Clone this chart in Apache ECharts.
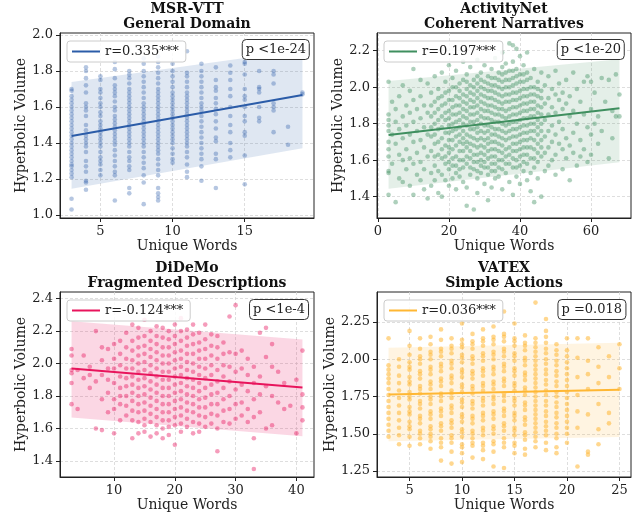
<!DOCTYPE html>
<html><head><meta charset="utf-8">
<script src="https://cdn.jsdelivr.net/npm/echarts@6/dist/echarts.min.js"></script>
<style>html,body{margin:0;padding:0;background:#fff}#c{width:634px;height:518px}</style>
</head><body><div id="c"></div>
<script>
// ---------------- DATA ----------------
// MSR-VTT: x = unique words, y values per column
const msrX = [3,4,5,6,7,8,9,10,11,12,13,14,15,16,17,18,19];
const msrY = [
 [1.70,1.69,1.66,1.64,1.62,1.60,1.58,1.56,1.54,1.52,1.50,1.48,1.46,1.44,1.42,1.40,1.38,1.36,1.34,1.32,1.30,1.28,1.27,1.25,1.23,1.21,1.09,1.03],
 [1.82,1.80,1.76,1.72,1.68,1.62,1.60,1.58,1.55,1.50,1.47,1.44,1.42,1.40,1.38,1.35,1.30,1.27,1.24,1.19,1.18,1.14],
 [1.77,1.75,1.70,1.68,1.65,1.62,1.60,1.57,1.55,1.52,1.50,1.48,1.46,1.44,1.42,1.40,1.38,1.35,1.32,1.30,1.28,1.25,1.22],
 [1.85,1.81,1.76,1.72,1.70,1.68,1.66,1.63,1.60,1.58,1.55,1.53,1.51,1.49,1.47,1.45,1.43,1.41,1.39,1.36,1.33,1.30,1.27,1.24,1.22,1.08],
 [1.80,1.78,1.76,1.73,1.70,1.68,1.66,1.64,1.62,1.60,1.58,1.56,1.54,1.52,1.50,1.48,1.46,1.44,1.42,1.40,1.38,1.35,1.32,1.30,1.27,1.25,1.15,1.12],
 [1.87,1.84,1.80,1.77,1.74,1.71,1.68,1.65,1.62,1.60,1.58,1.56,1.54,1.52,1.50,1.48,1.46,1.44,1.42,1.40,1.38,1.35,1.32,1.29,1.26,1.22,1.18,1.06],
 [1.88,1.85,1.82,1.79,1.76,1.73,1.70,1.68,1.66,1.64,1.62,1.60,1.58,1.56,1.54,1.52,1.50,1.48,1.46,1.44,1.42,1.40,1.38,1.36,1.34,1.31,1.28,1.25,1.22,1.15,1.12,1.10,1.08],
 [1.84,1.80,1.77,1.74,1.71,1.68,1.66,1.64,1.62,1.60,1.58,1.56,1.54,1.52,1.50,1.48,1.46,1.44,1.42,1.40,1.37,1.34,1.31,1.29],
 [1.91,1.79,1.77,1.74,1.71,1.68,1.66,1.64,1.62,1.60,1.58,1.56,1.54,1.52,1.50,1.48,1.46,1.44,1.42,1.40,1.38,1.35,1.32,1.28,1.24,1.21],
 [1.84,1.80,1.77,1.74,1.71,1.68,1.65,1.62,1.60,1.58,1.55,1.52,1.49,1.46,1.43,1.40,1.37,1.34,1.31,1.27,1.19],
 [1.82,1.75,1.71,1.69,1.65,1.62,1.59,1.56,1.52,1.48,1.43,1.41,1.34,1.31,1.15],
 [1.83,1.79,1.75,1.70,1.66,1.60,1.55,1.50,1.46,1.40,1.36,1.32],
 [1.85,1.84,1.78,1.70,1.66,1.64,1.60,1.55,1.52,1.46,1.44,1.33,1.17],
 [1.80,1.71,1.70,1.68,1.60,1.54,1.52],
 [1.80,1.78,1.73,1.62,1.60,1.58,1.46],
 [1.49,1.39],
 [1.68,1.67]
];
const msrLine = [[3,1.439],[19,1.667]];
const msrBandX = [3,19], msrBandLow = [1.146,1.370], msrBandHigh = [1.739,1.917];

// ActivityNet: [unique words, hyperbolic volume]
const actPoints = [
[3,1.85],[3,1.82],[3,1.79],[3,1.76],[3,1.70],[3,1.66],[3,1.62],[3,1.54],[3,1.53],[3,1.41],[3,2.03],
[4,1.92],[4,1.74],[4,1.58],[5,1.88],[5,1.69],[5,1.37],[5,1.81],[6,1.95],[6,1.77],[6,1.63],[6,1.50],
[7,2.01],[7,1.84],[7,1.72],[7,1.60],[7,1.48],[8,1.90],[8,1.79],[8,1.66],[8,1.55],[9,1.98],[9,1.86],[9,1.74],[9,1.61],[9,1.46],
[10,2.10],[10,1.93],[10,1.81],[10,1.70],[10,1.58],[10,1.41],[11,1.88],[11,1.76],[11,1.64],[11,1.52],
[12,2.04],[12,1.95],[12,1.83],[12,1.71],[12,1.59],[12,1.49],[13,1.90],[13,1.78],[13,1.67],[13,1.55],[13,1.44],
[14,2.02],[14,1.86],[14,1.74],[14,1.62],[14,1.39],[15,1.97],[15,1.84],[15,1.73],[15,1.65],[15,1.53],[15,1.46],
[16,2.06],[16,1.92],[16,1.80],[16,1.69],[16,1.57],[16,1.49],[17,1.99],[17,1.88],[17,1.77],[17,1.63],[17,1.54],[17,1.42],
[18,2.08],[18,1.95],[18,1.84],[18,1.72],[18,1.61],[18,1.52],[18,1.40],
[19,2.03],[19,1.91],[19,1.82],[19,1.75],[19,1.68],[19,1.58],[19,1.49],
[20,2.12],[20,1.98],[20,1.87],[20,1.79],[20,1.71],[20,1.64],[20,1.55],[20,1.46],
[21,2.05],[21,1.93],[21,1.85],[21,1.76],[21,1.66],[21,1.57],[21,1.50],
[22,2.09],[22,2.00],[22,1.90],[22,1.81],[22,1.73],[22,1.62],[22,1.53],[22,1.44],
[23,2.02],[23,1.94],[23,1.86],[23,1.78],[23,1.70],[23,1.60],[23,1.51],
[24,2.14],[24,2.04],[24,1.96],[24,1.88],[24,1.80],[24,1.72],[24,1.65],[24,1.56],[24,1.48],
[25,2.07],[25,1.99],[25,1.91],[25,1.83],[25,1.74],[25,1.67],[25,1.58],[25,1.45],[25,1.35],
[26,2.11],[26,2.01],[26,1.93],[26,1.85],[26,1.77],[26,1.69],[26,1.61],[26,1.52],
[27,2.04],[27,1.96],[27,1.89],[27,1.81],[27,1.72],[27,1.63],[27,1.55],[27,1.33],
[28,2.15],[28,2.06],[28,1.98],[28,1.90],[28,1.82],[28,1.75],[28,1.67],[28,1.59],[28,1.50],[28,1.42],
[29,2.08],[29,2.00],[29,1.92],[29,1.84],[29,1.76],[29,1.68],[29,1.60],[29,1.53],
[30,2.12],[30,2.03],[30,1.95],[30,1.87],[30,1.79],[30,1.71],[30,1.63],[30,1.56],[30,1.47],
[31,2.06],[31,1.98],[31,1.90],[31,1.83],[31,1.76],[31,1.69],[31,1.61],[31,1.52],[31,1.38],
[32,2.10],[32,2.01],[32,1.94],[32,1.86],[32,1.78],[32,1.70],[32,1.62],[32,1.54],[32,1.45],
[33,2.16],[33,2.05],[33,1.97],[33,1.89],[33,1.81],[33,1.74],[33,1.66],[33,1.58],[33,1.50],
[34,2.08],[34,2.00],[34,1.92],[34,1.85],[34,1.77],[34,1.69],[34,1.60],[34,1.51],
[35,2.19],[35,2.11],[35,2.03],[35,1.95],[35,1.88],[35,1.80],[35,1.72],[35,1.64],[35,1.55],[35,1.44],
[36,2.13],[36,2.04],[36,1.96],[36,1.87],[36,1.79],[36,1.71],[36,1.62],[36,1.53],
[37,2.24],[37,2.09],[37,2.00],[37,1.92],[37,1.84],[37,1.76],[37,1.67],[37,1.58],[37,1.48],
[38,2.23],[38,2.14],[38,2.05],[38,1.97],[38,1.89],[38,1.81],[38,1.73],[38,1.65],[38,1.56],[38,1.41],
[39,2.21],[39,2.10],[39,2.02],[39,1.93],[39,1.85],[39,1.77],[39,1.69],[39,1.60],[39,1.51],
[40,2.17],[40,2.07],[40,1.98],[40,1.90],[40,1.82],[40,1.74],[40,1.66],[40,1.57],[40,1.47],
[41,2.12],[41,2.03],[41,1.95],[41,1.87],[41,1.79],[41,1.71],[41,1.63],[41,1.54],
[42,2.19],[42,2.08],[42,1.99],[42,1.91],[42,1.83],[42,1.75],[42,1.67],[42,1.58],[42,1.49],
[43,2.05],[43,1.96],[43,1.88],[43,1.80],[43,1.72],[43,1.61],[43,1.43],
[44,2.10],[44,2.00],[44,1.92],[44,1.84],[44,1.76],[44,1.66],[44,1.56],[44,1.37],
[45,2.03],[45,1.95],[45,1.86],[45,1.78],[45,1.69],[45,1.59],[45,1.50],
[46,2.08],[46,1.98],[46,1.89],[46,1.80],[46,1.71],[46,1.62],[46,1.40],
[47,2.01],[47,1.91],[47,1.82],[47,1.73],[47,1.64],[47,1.54],
[48,2.06],[48,1.94],[48,1.85],[48,1.76],[48,1.67],[48,1.57],
[49,1.99],[49,1.89],[49,1.79],[49,1.70],[49,1.60],
[50,2.09],[50,1.96],[50,1.86],[50,1.74],[50,1.63],[50,1.52],
[51,2.02],[51,1.93],[51,1.81],[51,1.69],
[52,1.97],[52,1.88],[52,1.77],[52,1.66],[52,1.55],
[53,2.04],[53,1.91],[53,1.72],[53,1.61],
[54,1.95],[54,1.84],[54,1.68],[54,1.49],
[55,2.08],[55,1.87],[55,1.75],[55,1.64],
[56,1.99],[56,1.80],[56,1.57],
[57,1.92],[57,1.71],[57,1.62],
[58,2.03],[58,1.85],[58,1.66],
[59,2.06],[59,1.78],[59,1.59],
[60,2.03],[60,1.88],[60,1.74],[60,1.63],
[61,1.97],[61,1.80],[62,1.84],[62,1.69],[63,2.05],[63,1.76],[64,1.92],
[65,2.04],[65,1.61],[66,1.87],[66,1.72],[67,2.07],[67,1.84],[68,1.84],[68,1.96],
// denser core of the cloud
[15,1.90],[15,1.78],[16,1.86],[16,1.74],[16,1.62],[17,1.94],[17,1.82],[17,1.70],[18,1.90],[18,1.78],[18,1.66],
[19,1.97],[19,1.86],[19,1.62],[20,1.93],[20,1.83],[20,1.75],[20,1.67],[20,1.59],[21,2.00],[21,1.89],[21,1.80],[21,1.71],[21,1.61],
[22,1.95],[22,1.85],[22,1.77],[22,1.68],[22,1.57],[23,1.98],[23,1.90],[23,1.82],[23,1.74],[23,1.65],[23,1.55],
[24,1.92],[24,1.84],[24,1.76],[24,1.69],[24,1.60],[25,2.03],[25,1.95],[25,1.87],[25,1.79],[25,1.70],[25,1.62],
[26,1.97],[26,1.89],[26,1.81],[26,1.73],[26,1.65],[26,1.56],[27,2.00],[27,1.92],[27,1.85],[27,1.77],[27,1.68],[27,1.59],
[28,2.02],[28,1.94],[28,1.86],[28,1.78],[28,1.71],[28,1.63],[28,1.54],[29,2.04],[29,1.96],[29,1.88],[29,1.80],[29,1.72],[29,1.64],[29,1.57],
[30,1.99],[30,1.91],[30,1.83],[30,1.75],[30,1.67],[30,1.59],[31,2.02],[31,1.94],[31,1.87],[31,1.79],[31,1.72],[31,1.65],[31,1.56],
[32,2.05],[32,1.98],[32,1.90],[32,1.82],[32,1.74],[32,1.66],[32,1.58],[33,2.01],[33,1.93],[33,1.85],[33,1.77],[33,1.70],[33,1.62],[33,1.54],
[34,2.04],[34,1.96],[34,1.88],[34,1.81],[34,1.73],[34,1.65],[34,1.56],[35,2.07],[35,1.99],[35,1.91],[35,1.84],[35,1.76],[35,1.68],[35,1.60],
[36,2.08],[36,2.00],[36,1.92],[36,1.83],[36,1.75],[36,1.66],[36,1.58],[37,2.04],[37,1.96],[37,1.88],[37,1.80],[37,1.72],[37,1.63],
[38,2.09],[38,2.01],[38,1.93],[38,1.85],[38,1.77],[38,1.69],[38,1.61],[39,2.06],[39,1.97],[39,1.89],[39,1.81],[39,1.73],[39,1.65],[39,1.56],
[40,2.03],[40,1.94],[40,1.86],[40,1.78],[40,1.70],[40,1.62],[41,2.07],[41,1.99],[41,1.91],[41,1.83],[41,1.75],[41,1.67],[41,1.59],
[42,2.04],[42,1.95],[42,1.87],[42,1.79],[42,1.71],[42,1.63],[43,2.00],[43,1.92],[43,1.84],[43,1.76],[43,1.67],[43,1.53],
[44,1.96],[44,1.88],[44,1.80],[44,1.71],[44,1.61],[45,1.99],[45,1.90],[45,1.82],[45,1.74],[45,1.64],[46,1.94],[46,1.85],[46,1.76],[46,1.67]
];
const actLine = [[3,1.738],[68,1.884]];
const actBandX = [3,68], actBandLow = [1.444,1.588], actBandHigh = [2.034,2.153];

// DiDeMo
const didX = [3,4,5,6,7,8,9,10,11,12,13,14,15,16,17,18,19,20,21,22,23,24,25,26,27,28,29,30,31,32,33,34,35,36,37,38,39,40,41];
const didY = [
 [2.09,2.05,1.96,1.94,1.88,1.75],[1.96,1.72],[2.05,1.91],[1.98,1.93,1.85],[2.20,1.89,1.60],
 [2.10,2.02,1.93,1.78,1.59],[2.09,1.97,1.90,1.82,1.70],[2.12,2.03,1.97,1.88,1.78,1.72,1.57],
 [2.14,2.06,1.99,1.92,1.85,1.80,1.75,1.65],[2.19,2.10,2.03,1.97,1.91,1.86,1.80,1.74,1.68],
 [2.24,2.14,2.08,2.02,1.97,1.92,1.87,1.82,1.77,1.71,1.65,1.54],
 [2.22,2.16,2.10,2.05,2.00,1.95,1.90,1.85,1.80,1.75,1.70,1.64,1.57],
 [2.27,2.17,2.11,2.06,2.01,1.96,1.91,1.86,1.81,1.76,1.71,1.66,1.62,1.58],
 [2.20,2.14,2.09,2.04,1.99,1.94,1.89,1.84,1.79,1.74,1.69,1.64,1.55],
 [2.23,2.17,2.12,2.07,2.02,1.97,1.92,1.87,1.82,1.77,1.72,1.67,1.62,1.57],
 [2.22,2.16,2.10,2.05,2.00,1.95,1.90,1.85,1.80,1.75,1.70,1.65,1.60,1.54],
 [2.20,2.15,2.10,2.05,2.00,1.95,1.90,1.85,1.80,1.75,1.70,1.65,1.61,1.56],
 [2.24,2.17,2.12,2.07,2.02,1.97,1.92,1.87,1.82,1.77,1.72,1.67,1.62,1.50],
 [2.28,2.20,2.14,2.08,2.03,1.98,1.93,1.88,1.83,1.78,1.73,1.68,1.63,1.58],
 [2.21,2.16,2.11,2.06,2.01,1.96,1.91,1.86,1.81,1.76,1.71,1.66,1.61],
 [2.24,2.18,2.12,2.06,2.00,1.95,1.90,1.85,1.80,1.75,1.70,1.64,1.57],
 [2.19,2.13,2.08,2.03,1.98,1.93,1.88,1.83,1.78,1.73,1.68,1.63,1.58],
 [2.24,2.15,2.09,2.03,1.97,1.91,1.85,1.79,1.73,1.67,1.61],
 [2.18,2.11,2.05,1.99,1.93,1.87,1.81,1.75,1.69,1.63],
 [2.17,2.10,2.03,1.96,1.89,1.82,1.75,1.68,1.60,1.46],
 [2.13,2.06,1.99,1.92,1.85,1.78,1.71,1.64],
 [2.29,2.07,1.98,1.89,1.80,1.72,1.63],
 [2.36,2.06,1.95,1.84,1.75,1.66],
 [2.08,1.97,1.87,1.76,1.68],[2.03,1.93,1.83,1.72,1.64],[1.98,1.88,1.78,1.67,1.54,1.35],
 [2.19,1.92,1.81,1.70],[2.22,2.04,1.86,1.60],[2.12,1.98,1.80,1.62],[1.95,1.76],[1.88,1.72],[1.74],
 [1.90,1.57],[2.08,1.81,1.73,1.65]
];
const didLine = [[3,1.969],[41,1.852]];
const didBandX = [3,41], didBandLow = [1.667,1.552], didBandHigh = [2.260,2.149];

// VATEX
const vatX = [3,4,5,6,7,8,9,10,11,12,13,14,15,16,17,18,19,20,21,22,23,24,25];
const vatY = [
 [2.14,1.96,1.93,1.90,1.87,1.84,1.80,1.76,1.72,1.68,1.64,1.60,1.56,1.52,1.48],
 [2.00,1.95,1.89,1.84,1.79,1.74,1.69,1.64,1.59,1.54,1.49,1.43],
 [2.19,2.09,2.03,1.98,1.95,1.93,1.88,1.85,1.83,1.78,1.75,1.73,1.68,1.65,1.63,1.58,1.55,1.53,1.48,1.42],
 [2.14,2.07,2.02,2.00,1.97,1.92,1.90,1.87,1.82,1.80,1.77,1.72,1.70,1.67,1.62,1.60,1.57,1.52,1.50,1.47,1.43],
 [2.15,2.10,2.05,2.03,2.00,1.95,1.93,1.90,1.85,1.83,1.80,1.75,1.73,1.70,1.65,1.63,1.60,1.55,1.53,1.50,1.48,1.45,1.40],
 [2.20,2.13,2.07,2.05,2.02,1.97,1.95,1.92,1.87,1.85,1.82,1.77,1.75,1.72,1.67,1.65,1.62,1.57,1.55,1.52,1.47,1.44,1.41,1.32],
 [2.14,2.09,2.07,2.04,1.99,1.97,1.94,1.89,1.87,1.84,1.79,1.77,1.74,1.69,1.67,1.64,1.59,1.57,1.54,1.49,1.47,1.44,1.38,1.30],
 [2.24,2.13,2.10,2.08,2.03,2.01,1.98,1.93,1.91,1.88,1.83,1.81,1.78,1.73,1.71,1.68,1.63,1.61,1.58,1.53,1.51,1.48,1.43,1.41,1.37,1.31],
 [2.17,2.12,2.10,2.07,2.02,2.00,1.97,1.92,1.90,1.87,1.82,1.80,1.77,1.72,1.70,1.67,1.62,1.60,1.57,1.52,1.50,1.47,1.44,1.42,1.34],
 [2.20,2.14,2.12,2.09,2.04,2.02,1.99,1.94,1.92,1.89,1.84,1.82,1.79,1.74,1.72,1.69,1.64,1.62,1.59,1.54,1.52,1.49,1.44,1.42,1.39,1.33],
 [2.22,2.15,2.13,2.10,2.05,2.03,2.00,1.95,1.93,1.90,1.85,1.83,1.80,1.75,1.73,1.70,1.65,1.63,1.60,1.55,1.53,1.50,1.45,1.43,1.38,1.28],
 [2.32,2.17,2.15,2.12,2.07,2.05,2.02,1.97,1.95,1.92,1.87,1.85,1.82,1.77,1.75,1.72,1.67,1.65,1.62,1.57,1.55,1.52,1.47,1.44,1.41,1.27],
 [2.24,2.14,2.12,2.09,2.04,2.02,1.99,1.94,1.92,1.89,1.84,1.82,1.79,1.74,1.72,1.69,1.64,1.62,1.59,1.54,1.52,1.49,1.44,1.42,1.37],
 [2.16,2.11,2.09,2.06,2.01,1.99,1.96,1.91,1.89,1.86,1.81,1.79,1.76,1.71,1.69,1.66,1.61,1.59,1.56,1.51,1.49,1.46,1.40,1.36],
 [2.38,2.14,2.11,2.08,2.05,2.02,1.99,1.96,1.93,1.90,1.87,1.84,1.81,1.78,1.75,1.72,1.69,1.66,1.63,1.60,1.57,1.54,1.51,1.48,1.45,1.41],
 [2.27,2.19,2.15,2.11,2.07,2.04,2.00,1.97,1.93,1.90,1.86,1.83,1.79,1.76,1.72,1.69,1.65,1.62,1.58,1.55,1.52,1.49,1.44,1.39],
 [2.10,2.06,2.03,1.99,1.96,1.92,1.89,1.85,1.82,1.78,1.75,1.71,1.68,1.64,1.61,1.57,1.54,1.50,1.47,1.41,1.37],
 [2.14,2.06,2.02,1.98,1.94,1.90,1.86,1.82,1.78,1.74,1.70,1.66,1.62,1.58,1.54,1.50,1.44],
 [2.14,2.01,1.88,1.76,1.65,1.54,1.28],
 [2.14,1.99,1.90,1.80,1.63,1.38,1.36],
 [2.08,1.95,1.84,1.70,1.53,1.43],
 [2.02,1.88,1.64,1.57],
 [2.10,1.94,1.80]
];
const vatLine = [[3,1.764],[25,1.796]];
const vatBandX = [3,25], vatBandLow = [1.449,1.478], vatBandHigh = [2.077,2.111];

// Text
const titles = ['MSR-VTT\nGeneral Domain','ActivityNet\nCoherent Narratives','DiDeMo\nFragmented Descriptions','VATEX\nSimple Actions'];
const rLabels = ['r=0.335***','r=0.197***','r=-0.124***','r=0.036***'];
const pLabels = ['p <1e-24','p <1e-20','p <1e-4','p =0.018'];
const yTicks = [[1.0,1.2,1.4,1.6,1.8,2.0],[1.4,1.6,1.8,2.0,2.2],[1.4,1.6,1.8,2.0,2.2,2.4],[1.25,1.50,1.75,2.00,2.25]];
const xTicks = [[5,10,15],[0,20,40,60],[10,20,30,40],[5,10,15,20,25]];

// ---------------- BUILD ----------------
function cols(xs, ys){ const o=[]; xs.forEach((x,i)=>ys[i].forEach(y=>o.push([x,y]))); return o; }
const FONT = 'DejaVu Serif';
const panels = [
 {pts: cols(msrX,msrY), line: msrLine, bx: msrBandX, bl: msrBandLow, bh: msrBandHigh, color:'#2b5ca8', band:'rgba(43,92,168,0.15)', op:0.35, xr:[2.2,19.8], yr:[0.983,2.011], dec:1,
  grid:{left:60,top:33,width:254,height:185}, tx:187, ty:2, lg:{left:67,top:41}, pb:{right:324,top:39}},
 {pts: actPoints, line: actLine, bx: actBandX, bl: actBandLow, bh: actBandHigh, color:'#3f8f5f', band:'rgba(63,143,95,0.14)', op:0.42, xr:[-0.25,71.25], yr:[1.283,2.297], dec:1,
  grid:{left:377,top:33,width:254,height:185}, tx:504, ty:2, lg:{left:384,top:41}, pb:{right:9,top:39}},
 {pts: cols(didX,didY), line: didLine, bx: didBandX, bl: didBandLow, bh: didBandHigh, color:'#e8145c', band:'rgba(232,20,92,0.17)', op:0.42, xr:[1.1,42.9], yr:[1.301,2.441], dec:1,
  grid:{left:60,top:292,width:254,height:185}, tx:187, ty:261, lg:{left:67,top:300}, pb:{right:325,top:299}},
 {pts: cols(vatX,vatY), line: vatLine, bx: vatBandX, bl: vatBandLow, bh: vatBandHigh, color:'#ffb733', band:'rgba(255,183,51,0.15)', op:0.55, xr:[1.9,26.1], yr:[1.21,2.451], dec:2,
  grid:{left:377,top:292,width:254,height:185}, tx:504, ty:261, lg:{left:384,top:300}, pb:{right:8,top:299}}
];

const axisCommon = {
  axisLine:{show:true,onZero:false,lineStyle:{color:'#222',width:1}},
  axisTick:{show:true,length:4,lineStyle:{color:'#222'}},
  splitLine:{show:true,lineStyle:{color:'#d6d6d6',type:[3,2],width:0.8}},
  nameLocation:'middle',
  nameTextStyle:{fontFamily:FONT,fontSize:14,color:'#222'}
};

const option = {backgroundColor:'#fff', animation:false, grid:[], xAxis:[], yAxis:[], series:[], legend:[], title:[]};
panels.forEach((p,i)=>{
  option.grid.push(Object.assign({show:true,borderColor:'#222',borderWidth:1,backgroundColor:'transparent'},p.grid));
  option.xAxis.push(Object.assign({}, axisCommon, {type:'value', gridIndex:i, min:p.xr[0], max:p.xr[1], name:'Unique Words', nameGap:18,
    axisTick:Object.assign({}, axisCommon.axisTick, {customValues:xTicks[i]}),
    axisLabel:{customValues:xTicks[i], margin:7, fontFamily:FONT, fontSize:13, color:'#222', formatter:v=>String(Math.round(v))}}));
  option.yAxis.push(Object.assign({}, axisCommon, {type:'value', gridIndex:i, min:p.yr[0], max:p.yr[1], name:'Hyperbolic Volume', nameGap:32,
    axisTick:Object.assign({}, axisCommon.axisTick, {customValues:yTicks[i]}),
    axisLabel:{customValues:yTicks[i], margin:7, fontFamily:FONT, fontSize:13, color:'#222', formatter:v=>v.toFixed(p.dec)}}));
  option.series.push({type:'custom', xAxisIndex:i, yAxisIndex:i, z:1, silent:true, clip:true,
    data:p.bx.map((x,k)=>[x,p.bl[k],p.bh[k]]), encode:{x:0,y:[1,2]},
    renderItem:(params,api)=>{
      if(params.dataIndex!==0) return null;
      const pts=[];
      p.bx.forEach((x,k)=>pts.push(api.coord([x,p.bh[k]])));
      for(let k=p.bx.length-1;k>=0;k--) pts.push(api.coord([p.bx[k],p.bl[k]]));
      return {type:'polygon', shape:{points:pts}, style:{fill:p.band}};
    }});
  option.series.push({type:'scatter', xAxisIndex:i, yAxisIndex:i, z:2, silent:true, symbolSize:4.6,
    itemStyle:{color:p.color, opacity:p.op}, data:p.pts});
  option.series.push({type:'line', name:rLabels[i], xAxisIndex:i, yAxisIndex:i, z:3, silent:true, showSymbol:false, symbol:'none',
    color:p.color, lineStyle:{color:p.color,width:2}, data:p.line});
  option.legend.push({data:[rLabels[i]], left:p.lg.left, top:p.lg.top, icon:'rect', itemWidth:28, itemHeight:2, selectedMode:false,
    padding:[4,7,4,5], borderColor:'#ccc', borderWidth:1, borderRadius:3, backgroundColor:'rgba(255,255,255,0.85)',
    textStyle:{fontFamily:FONT,fontSize:13,color:'#222'}});
  option.title.push({text:titles[i], left:p.tx, top:p.ty, textAlign:'center', padding:0,
    textStyle:{fontFamily:FONT,fontSize:14,fontWeight:'bold',color:'#111',lineHeight:15}});
  option.title.push({text:pLabels[i], right:p.pb.right, top:p.pb.top, padding:[3,4,3,4], borderColor:'#333', borderWidth:1, borderRadius:4,
    backgroundColor:'#fff', textStyle:{fontFamily:FONT,fontSize:13,fontWeight:'normal',color:'#222',lineHeight:15}});
});
const chart = echarts.init(document.getElementById('c'), null, {renderer:'canvas'});
chart.setOption(option);
</script></body></html>
